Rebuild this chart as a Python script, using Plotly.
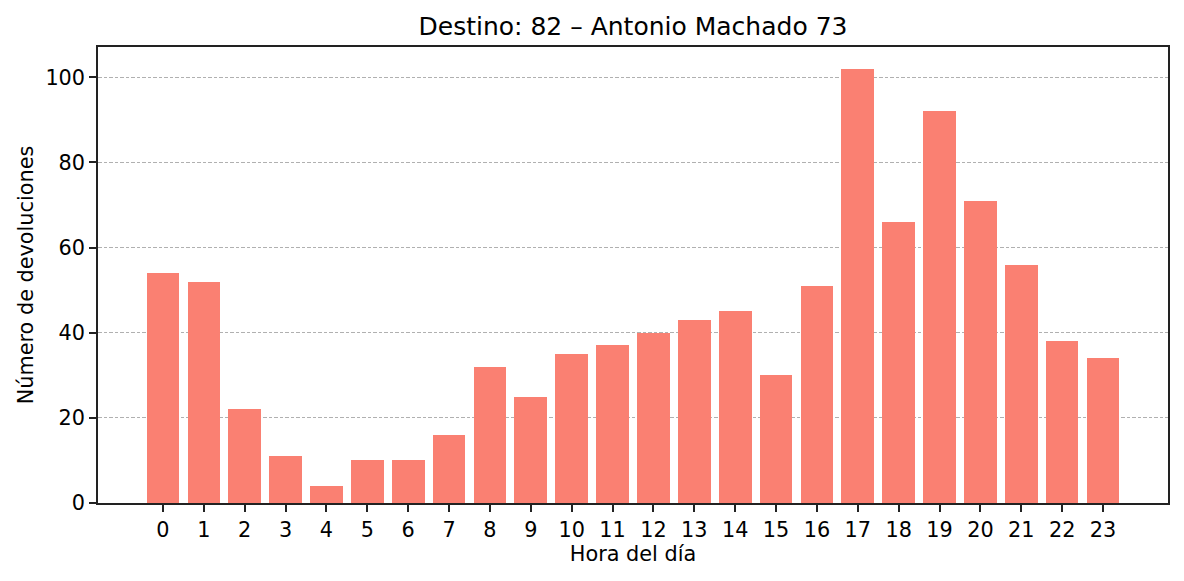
import plotly.graph_objects as go

hours = list(range(24))
devoluciones = [54, 52, 22, 11, 4, 10, 10, 16, 32, 25, 35, 37, 40, 43, 45, 30, 51, 102, 66, 92, 71, 56, 38, 34]
title = "Destino: 82 – Antonio Machado 73"
x_label = "Hora del día"
y_label = "Número de devoluciones"

fig = go.Figure()
fig.add_trace(go.Bar(x=hours, y=devoluciones, width=0.8, marker=dict(color="#FA8072", line=dict(width=0))))

font = "DejaVu Sans"
fs = 20.8
fig.update_layout(
    width=1184, height=581,
    margin=dict(l=98, r=16, t=47, b=78),
    paper_bgcolor="white", plot_bgcolor="white",
    font=dict(family=font, size=fs, color="black"),
    title=dict(text=title, x=0.5 * (98 + 1168) / 1184, xanchor="center", y=1 - 26 / 581, yanchor="middle",
               font=dict(size=25, family=font, color="black")),
    showlegend=False,
    bargap=0,
)
axis_common = dict(
    ticks="outside", ticklen=7, tickwidth=1.5, tickcolor="#222222", showline=True, linecolor="#222222", linewidth=1.5,
    mirror=True, zeroline=False, tickfont=dict(size=fs, family=font, color="black"),
)
fig.update_xaxes(
    range=[-1.59, 24.59], tickmode="array", tickvals=hours, ticktext=[str(h) for h in hours],
    showgrid=False,
    title=dict(text=x_label, font=dict(size=fs, family=font), standoff=6),
    **axis_common,
)
fig.update_yaxes(
    range=[0, 107.1], tickmode="array", tickvals=[0, 20, 40, 60, 80, 100],
    showgrid=True, gridcolor="#b0b0b0", gridwidth=1, griddash="3.8px,1.7px",
    title=dict(text=y_label, font=dict(size=fs, family=font), standoff=6),
    **axis_common,
)
fig.write_html("out.html")
